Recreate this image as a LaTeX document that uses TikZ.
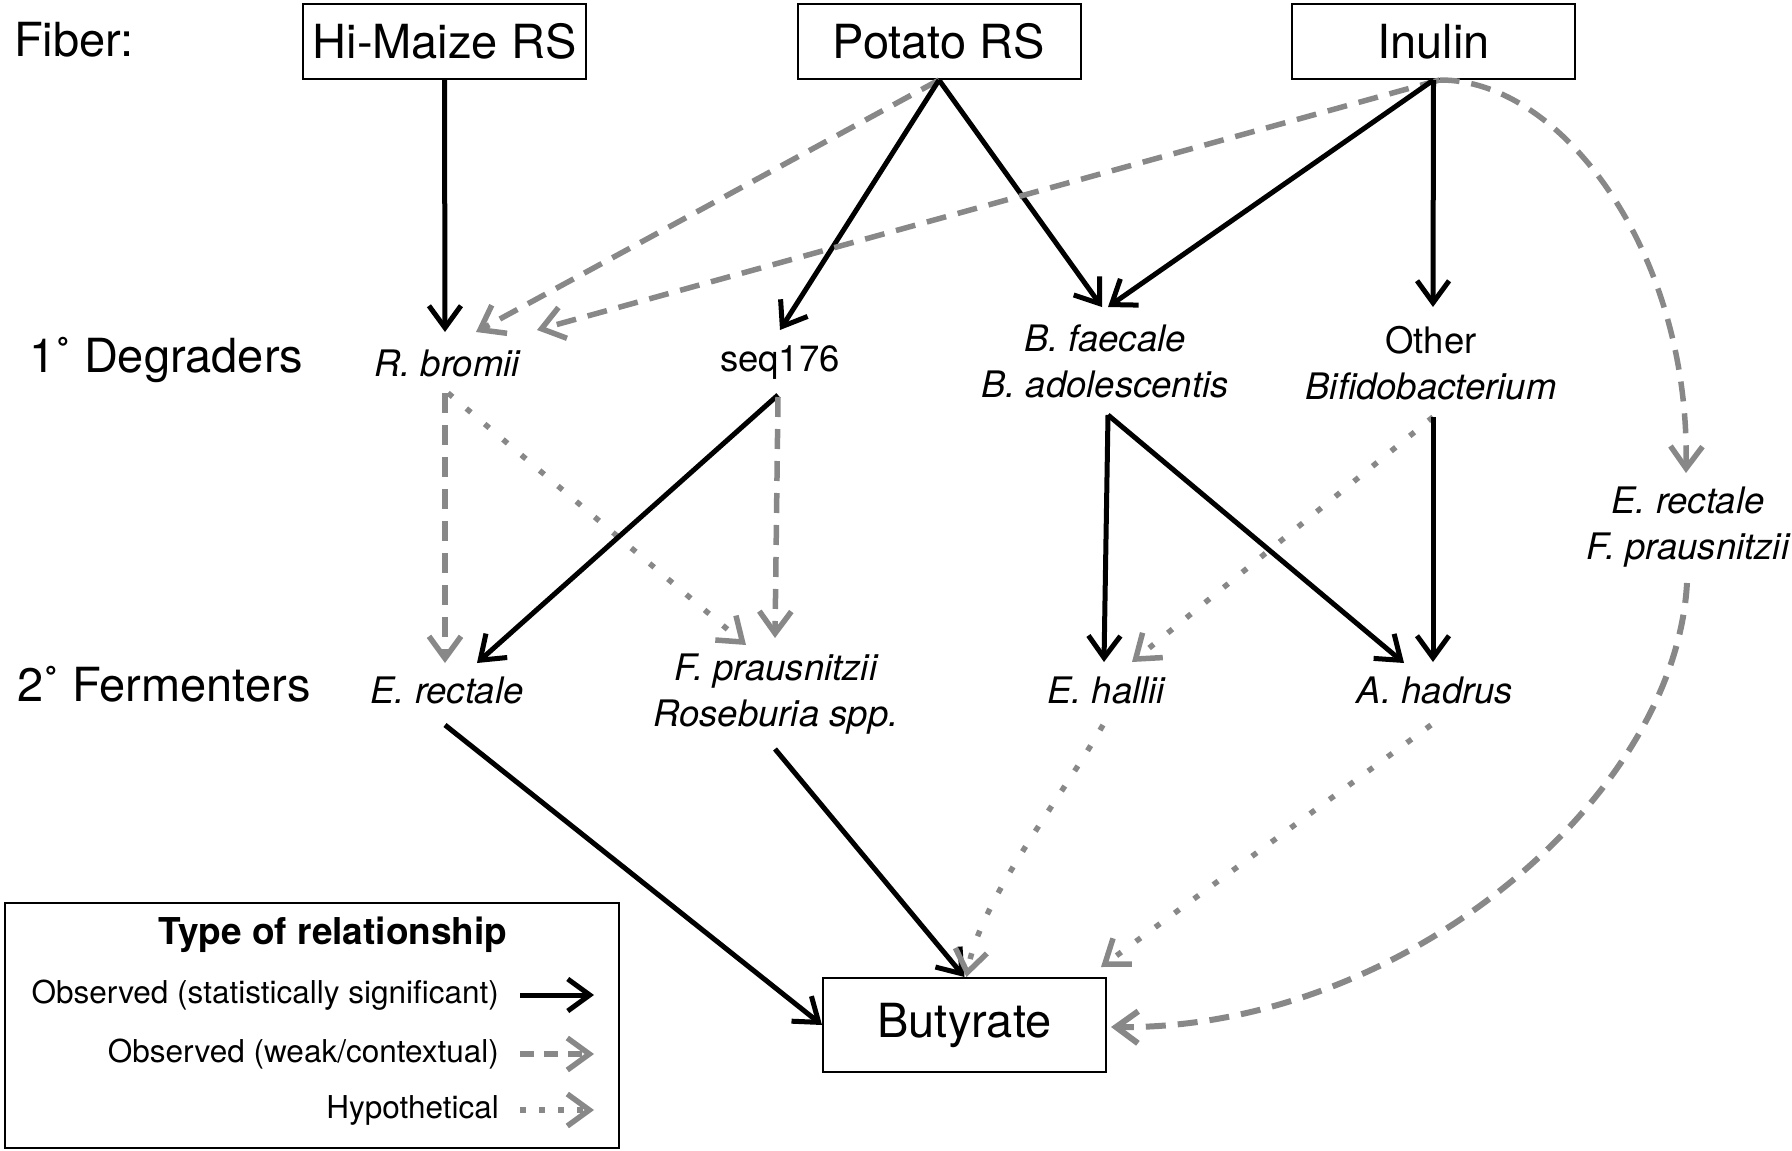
\documentclass[tikz,border=0pt]{standalone}
\usepackage{fontspec}
\setmainfont{TeX Gyre Heros}
\usetikzlibrary{arrows.meta,calc}
\definecolor{edgegray}{RGB}{136,136,136}
\begin{document}
\begin{tikzpicture}[x=1pt,y=-1pt,
  big/.style={font=\fontsize{47}{56}\selectfont},
  sp/.style={font=\fontsize{36.5}{46}\selectfont\itshape, align=center, inner sep=0pt},
  spu/.style={font=\fontsize{36.5}{46}\selectfont, align=center, inner sep=0pt},
  fiberbox/.style={draw, line width=2pt, minimum width=283pt, minimum height=75pt, inner sep=0pt, big},
  legtext/.style={font=\fontsize{31.5}{38}\selectfont, anchor=east, inner sep=0pt},
  sig/.style={line width=5pt, -{Straight Barb[length=22pt,width=32pt]}},
  weak/.style={line width=5.5pt, edgegray, dash pattern=on 20pt off 12pt, -{Straight Barb[length=22pt,width=32pt]}},
  hyp/.style={line width=5.5pt, edgegray, dash pattern=on 6pt off 18pt, -{Straight Barb[length=22pt,width=32pt]}},
]
\useasboundingbox (0,0) rectangle (1792,1151);

% row labels
\node[big, anchor=west, inner sep=0pt] (fiber) at (14,40) {Fiber:};
\node[big, anchor=west, inner sep=0pt] (deg) at (29,360) {1˚ Degraders};
\node[big, anchor=west, inner sep=0pt] (ferm) at (17,684) {2˚ Fermenters};

% fiber boxes
\node[fiberbox] (hm) at (444.5,41.5) {Hi-Maize RS};
\node[fiberbox] (pr) at (939,41.5) {Potato RS};
\node[fiberbox] (in) at (1433.5,41.5) {Inulin};

% degraders
\node[sp] (rb) at (447,363) {R. bromii};
\node[spu] (sq) at (780,363) {seq176};
\node[sp] (bf) at (1105,361) {B. faecale\\B. adolescentis};
\node[spu] (ob) at (1431,363) {Other\\\textit{Bifidobacterium}};

% fermenters
\node[sp] (er) at (447,690) {E. rectale};
\node[sp] (fp) at (776,694) {F. prausnitzii\\Roseburia spp.};
\node[sp] (eh) at (1106,690) {E. hallii};
\node[sp] (ah) at (1435,690) {A. hadrus};
\node[sp] (rt) at (1688,527) {E. rectale\\F. prausnitzii};

% butyrate
\node[draw, line width=2pt, minimum width=283pt, minimum height=94pt, inner sep=0pt, big] (bu) at (964.5,1025) {Butyrate};

% fiber -> degraders
\draw[sig] (hm.south) -- ($(rb)+(-2,-31)$);
\draw[weak] (pr.south) -- ($(rb)+(29,-31)$);
\draw[sig] (pr.south) -- ($(sq)+(0,-33)$);
\draw[sig] (pr.south) -- ($(bf)+(-3,-54)$);
\draw[weak] ($(in.south)+(6,0)$) -- ($(rb)+(90,-33)$);
\draw[sig] (in.south) -- ($(bf)+(3,-54)$);
\draw[sig] (in.south) -- ($(ob)+(2,-56)$);
\draw[weak] ($(in.south)+(6,0)$) .. controls (1560,79) and (1690,250) .. ($(rt)+(-2,-54)$);

% degraders -> fermenters
\draw[weak] ($(rb)+(-2,30)$) -- ($(er)+(-2,-27)$);
\draw[hyp] ($(rb)+(1,30)$) -- ($(fp)+(-30,-49)$);
\draw[sig] ($(sq)+(-2,32)$) -- ($(er)+(30,-27)$);
\draw[weak] ($(sq)+(-2,34)$) -- ($(fp)+(-1,-56)$);
\draw[sig] ($(bf)+(3,54)$) -- ($(eh)+(-2,-28)$);
\draw[sig] ($(bf)+(3,54)$) -- ($(ah)+(-31,-27)$);
\draw[hyp] ($(ob)+(2,54)$) -- ($(eh)+(26,-28)$);
\draw[sig] ($(ob)+(2,54)$) -- ($(ah)+(-2,-28)$);

% fermenters -> butyrate
\draw[sig] ($(er)+(-2,35)$) -- (bu.west);
\draw[sig] ($(fp)+(-1,55)$) -- (bu.north);
\draw[hyp] ($(eh)+(-3,35)$) .. controls (1060,800) and (980,900) .. ($(bu.north)+(2,0)$);
\draw[hyp] ($(ah)+(-4,35)$) -- ($(bu.north east)+(-6,-10)$);
\draw[weak, line width=6pt] ($(rt)+(-1,56)$) .. controls (1675,800) and (1400,1030) .. ($(bu.east)+(4,2)$);

% legend
\node[draw, line width=2pt, minimum width=614pt, minimum height=245pt, inner sep=0pt] (leg) at (312,1025.5) {};
\node[font=\fontsize{37}{44}\selectfont\bfseries, inner sep=0pt] (legtitle) at (333,935) {Type of relationship};
\node[legtext] (l1) at (499,995) {Observed (statistically significant)};
\node[legtext] (l2) at (499,1054) {Observed (weak/contextual)};
\node[legtext] (l3) at (499,1110) {Hypothetical};
\coordinate (l1a) at (520,995);
\coordinate (l1b) at (594,995);
\coordinate (l2a) at (520,1054);
\coordinate (l2b) at (594,1054);
\coordinate (l3a) at (520,1110);
\coordinate (l3b) at (594,1110);
\draw[sig] (l1a) -- (l1b);
\draw[weak, dash pattern=on 14pt off 10pt] (l2a) -- (l2b);
\draw[hyp, dash pattern=on 6pt off 13pt] (l3a) -- (l3b);
\end{tikzpicture}
\end{document}
